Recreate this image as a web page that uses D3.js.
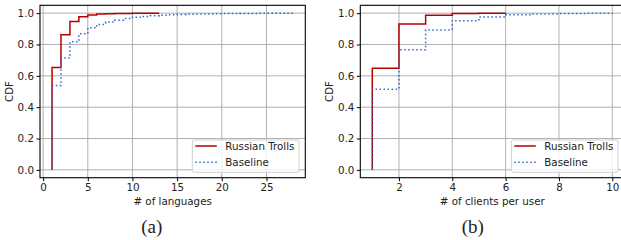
<!DOCTYPE html>
<html>
<head>
<meta charset="utf-8">
<script src="https://cdn.jsdelivr.net/npm/d3@7"></script>
<style>
  body { margin: 0; background: #fff; }
  svg { display: block; }
  text { font-family: "DejaVu Sans", sans-serif; fill: #222; }
</style>
</head>
<body>
<svg id="chart" width="621" height="240"></svg>
<script>
// Data: CDF values at each x (step after)
const langX = [1, 2, 3, 4, 5, 6, 7, 8, 9, 10, 11, 12, 13];
const langTrolls = [0.653, 0.862, 0.946, 0.977, 0.988, 0.994, 0.996, 0.997, 0.998, 0.999, 0.999, 1.0, 1.0];
const langBaseX = [1, 2, 3, 4, 5, 6, 7, 8, 9, 10, 11, 12, 13, 14, 15, 16, 17, 18, 19, 20, 21, 22, 23, 24, 25, 26, 27, 28];
const langBaseline = [0.538, 0.713, 0.817, 0.868, 0.906, 0.928, 0.943, 0.955, 0.965, 0.973, 0.979, 0.984, 0.987, 0.990,
  0.992, 0.993, 0.994, 0.995, 0.996, 0.997, 0.997, 0.998, 0.998, 0.999, 0.999, 0.999, 1.0, 1.0];

const clientX = [1, 2, 3, 4, 5, 6];
const clientTrolls = [0.649, 0.930, 0.986, 0.998, 0.999, 1.0];
const clientBaseX = [1, 2, 3, 4, 5, 6, 7, 8, 9, 10];
const clientBaseline = [0.515, 0.766, 0.893, 0.952, 0.976, 0.989, 0.995, 0.998, 0.999, 1.0];

const yTicks = [0.0, 0.2, 0.4, 0.6, 0.8, 1.0];
const langTicks = [0, 5, 10, 15, 20, 25];
const clientTicks = [2, 4, 6, 8, 10];
const seriesNames = ["Russian Trolls", "Baseline"];

const RED = "#b50000";
const BLUE = "#2f66d0";

const svg = d3.select("#chart");

function drawPanel(opts) {
    const g = svg.append("g");
    const allX = opts.trollX.concat(opts.baseX);
    const [lo, hi] = d3.extent(allX);
    const pad = (hi - lo) * 0.05;
    const x = d3.scaleLinear().domain([lo - pad, hi + pad]).range([opts.left, opts.right]);
    const y = d3.scaleLinear().domain([-0.05, 1.05]).range([177.7, 5.3]);

    // grid
    g.selectAll(".gx").data(opts.xTicks).enter().append("line")
        .attr("x1", d => x(d)).attr("x2", d => x(d))
        .attr("y1", y.range()[0]).attr("y2", y.range()[1])
        .attr("stroke", "#b0b0b0").attr("stroke-width", 1);
    g.selectAll(".gy").data(yTicks).enter().append("line")
        .attr("x1", opts.left).attr("x2", opts.right)
        .attr("y1", d => y(d)).attr("y2", d => y(d))
        .attr("stroke", "#b0b0b0").attr("stroke-width", 1);

    const line = d3.line().x(d => x(d[0])).y(d => y(d[1])).curve(d3.curveStepAfter);
    const trollPts = [[opts.trollX[0], 0]].concat(opts.trollX.map((v, i) => [v, opts.troll[i]]));
    const basePts = [[opts.baseX[0], 0]].concat(opts.baseX.map((v, i) => [v, opts.base[i]]));

    g.append("path").attr("d", line(trollPts))
        .attr("fill", "none").attr("stroke", RED).attr("stroke-width", 1.5);
    g.append("path").attr("d", line(basePts))
        .attr("fill", "none").attr("stroke", BLUE).attr("stroke-width", 1.5)
        .attr("stroke-dasharray", "1.5,2.5");

    // spines
    g.append("rect")
        .attr("x", opts.left).attr("y", y.range()[1])
        .attr("width", opts.right - opts.left).attr("height", y.range()[0] - y.range()[1])
        .attr("fill", "none").attr("stroke", "#000").attr("stroke-width", 1.1);

    // axes
    const xAxis = d3.axisBottom(x).tickValues(opts.xTicks).tickSize(3.5).tickSizeOuter(0).tickPadding(2.5);
    const ax = g.append("g").attr("transform", `translate(0,${y.range()[0]})`).call(xAxis);
    const yAxis = d3.axisLeft(y).tickValues(yTicks).tickFormat(d3.format(".1f")).tickSize(3.5).tickSizeOuter(0).tickPadding(2.5);
    const ay = g.append("g").attr("transform", `translate(${opts.left},0)`).call(yAxis);
    [ax, ay].forEach(a => {
        a.select(".domain").remove();
        a.selectAll(".tick line").attr("stroke", "#000").attr("stroke-width", 1);
        a.selectAll(".tick text").attr("font-family", "DejaVu Sans").attr("font-size", "10.3px").attr("fill", "#222");
    });

    // labels
    g.append("text").attr("x", (opts.left + opts.right) / 2).attr("y", 204.5)
        .attr("text-anchor", "middle").attr("font-size", "10.3px").text(opts.xLabel);
    g.append("text").attr("transform", `translate(${opts.left - 27},${(y.range()[0] + y.range()[1]) / 2}) rotate(-90)`)
        .attr("text-anchor", "middle").attr("font-size", "10.3px").text("CDF");

    // legend
    const lx = opts.right - 6.3 - 106.7, ly = 140;
    g.append("rect").attr("x", lx).attr("y", ly).attr("width", 106.7).attr("height", 32.3)
        .attr("rx", 2).attr("fill", "#fff").attr("fill-opacity", 0.8)
        .attr("stroke", "#d0d0d0").attr("stroke-width", 1);
    seriesNames.forEach((name, i) => {
        const yy = ly + 6 + i * 16.3;
        g.append("line").attr("x1", lx + 3).attr("x2", lx + 24.5).attr("y1", yy).attr("y2", yy)
            .attr("stroke", i === 0 ? RED : BLUE).attr("stroke-width", 1.5)
            .attr("stroke-dasharray", i === 0 ? null : "1.5,2.5");
        g.append("text").attr("x", lx + 33).attr("y", yy + 3.7)
            .attr("font-size", "10.3px").text(name);
    });

    // caption
    svg.append("text").attr("x", opts.captionX).attr("y", 233)
        .attr("text-anchor", "middle")
        .style("font-family", "'Liberation Serif', 'DejaVu Serif', serif")
        .attr("font-size", "19px").attr("fill", "#111").text(opts.caption);
}

drawPanel({
    left: 40, right: 305.3,
    trollX: langX, troll: langTrolls, baseX: langBaseX, base: langBaseline,
    xTicks: langTicks, xLabel: "# of languages", caption: "(a)", captionX: 151.7
});
drawPanel({
    left: 360.3, right: 624.3,
    trollX: clientX, troll: clientTrolls, baseX: clientBaseX, base: clientBaseline,
    xTicks: clientTicks, xLabel: "# of clients per user", caption: "(b)", captionX: 472.8
});
</script>
</body>
</html>
